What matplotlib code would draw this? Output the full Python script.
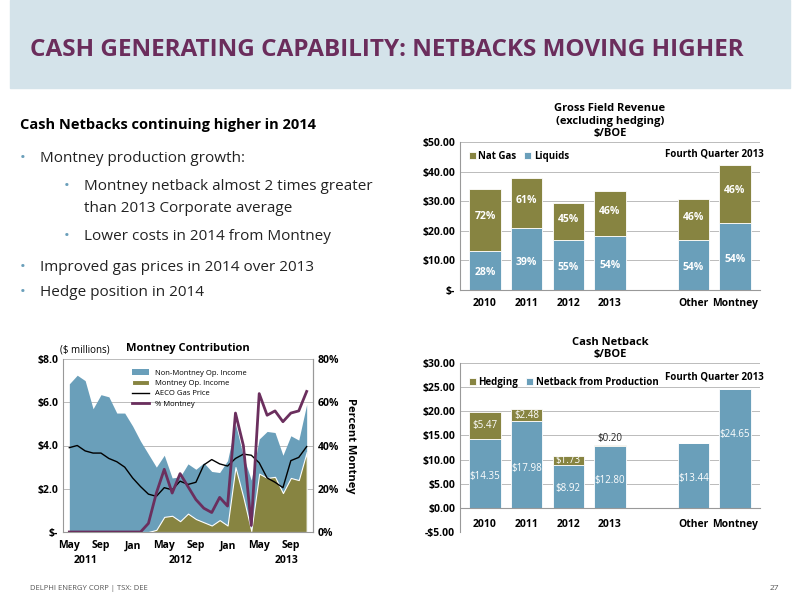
import matplotlib
matplotlib.use("Agg")
import matplotlib.pyplot as plt
import numpy as np
from matplotlib.patches import Rectangle

# ---------- data ----------
rev_cats = ["2010", "2011", "2012", "2013", "", "Other", "Montney"]
rev_liquids = [13.3, 21.0, 17.0, 18.1, 0, 16.8, 22.8]
rev_total = [34.0, 37.8, 29.3, 33.3, 0, 30.9, 42.2]
rev_liq_pct = ["28%", "39%", "55%", "54%", "", "54%", "54%"]
rev_gas_pct = ["72%", "61%", "45%", "46%", "", "46%", "46%"]

nb_cats = ["2010", "2011", "2012", "2013", "", "Other", "Montney"]
nb_prod = [14.35, 17.98, 8.92, 12.80, 0, 13.44, 24.65]
nb_hedge = [5.47, 2.48, 1.73, 0.20, 0, 0, 0]

months_total = [6.85, 7.25, 7.0, 5.7, 6.35, 6.25, 5.5, 5.5, 4.9, 4.2, 3.6, 3.0, 3.55, 2.5,
                2.55, 3.15, 2.9, 3.2, 2.8, 2.75, 3.3, 5.0, 3.5, 2.4, 4.3, 4.65, 4.6, 3.55,
                4.45, 4.25, 5.9]
montney_inc = [0, 0, 0, 0, 0, 0, 0, 0, 0, 0, 0, 0.1, 0.7, 0.75, 0.5, 0.85, 0.6, 0.45, 0.3,
               0.55, 0.3, 3.0, 1.6, 0.05, 2.7, 2.5, 2.55, 1.8, 2.5, 2.4, 3.7]
pct_montney = [0, 0, 0, 0, 0, 0, 0, 0, 0, 0, 4, 18, 29, 18, 27, 21, 15, 11, 9, 16, 12, 55,
               40, 3, 64, 54, 56, 51, 55, 56, 65]
aeco = [3.9, 4.0, 3.75, 3.65, 3.65, 3.4, 3.25, 3.0, 2.5, 2.1, 1.75, 1.65, 2.05, 1.95, 2.35,
        2.2, 2.3, 3.1, 3.35, 3.15, 3.05, 3.4, 3.6, 3.55, 3.2, 2.5, 2.3, 2.05, 3.3, 3.45, 3.95]
month_ticks = ["May", "Sep", "Jan", "May", "Sep", "Jan", "May", "Sep"]
year_labels = ["2011", "2012", "2013"]
year_pos = [2, 14, 27.5]

BLUE = "#6a9fba"
OLIVE = "#878441"
PURPLE = "#6b2f5e"
TITLE = "#6b2d5c"
plt.rcParams['font.family'] = ['Open Sans', 'DejaVu Sans']

W, H = 800, 600
fig = plt.figure(figsize=(8, 6), dpi=100)

def ax_px(x0, y0, x1, y1):
    return fig.add_axes([x0 / W, 1 - y1 / H, (x1 - x0) / W, (y1 - y0) / H])

# title band
fig.patches.append(Rectangle((10 / W, 1 - 88 / H), 780 / W, 88 / H, transform=fig.transFigure,
                             color="#d4e3ea", zorder=0))
fig.text(30 / W, 1 - 50 / H, "CASH GENERATING CAPABILITY: NETBACKS MOVING HIGHER",
         color=TITLE, fontsize=17.5, fontweight="bold", va="center")

fig.text(20 / W, 1 - 125 / H, "Cash Netbacks continuing higher in 2014", fontsize=10.5,
         fontweight="bold", va="center")
bullets = [(20, 159, "Montney production growth:", True),
           (64, 186, "Montney netback almost 2 times greater", True),
           (64, 208, "than 2013 Corporate average", False),
           (64, 236, "Lower costs in 2014 from Montney", True),
           (20, 267, "Improved gas prices in 2014 over 2013", True),
           (20, 293, "Hedge position in 2014", True)]
for x, y, t, b in bullets:
    if b:
        fig.text(x / W, 1 - y / H, "•", color=BLUE, fontsize=11, va="center")
    fig.text((x + 20) / W, 1 - y / H, t, fontsize=11, va="center", color="#222222")
fig.text(30 / W, 1 - 589 / H, "DELPHI ENERGY CORP | TSX: DEE", fontsize=5.5, color="#555555",
         va="center")
fig.text(770 / W, 1 - 589 / H, "27", fontsize=6, color="#555555", va="center")

def style(ax):
    for s in ["top", "right"]:
        ax.spines[s].set_visible(False)
    ax.spines["left"].set_color("#999999")
    ax.spines["bottom"].set_color("#999999")
    ax.grid(axis="y", color="#bbbbbb", lw=0.7)
    ax.set_axisbelow(True)
    ax.tick_params(labelsize=7.5, length=0)
    for l in ax.get_xticklabels() + ax.get_yticklabels():
        l.set_fontweight("bold")

# ---------- top right ----------
ax1 = ax_px(460, 142, 760, 290)
x = np.arange(len(rev_cats))
gas = [t - l for t, l in zip(rev_total, rev_liquids)]
ax1.bar(x, rev_liquids, 0.75, color=BLUE, edgecolor="white", lw=0.6, label="Liquids")
ax1.bar(x, gas, 0.75, bottom=rev_liquids, color=OLIVE, edgecolor="white", lw=0.6, label="Nat Gas")
for i in x:
    if rev_total[i]:
        ax1.text(i, rev_liquids[i] * 0.45, rev_liq_pct[i], ha="center", va="center",
                 color="white", fontsize=7.5, fontweight="bold")
        ax1.text(i, rev_liquids[i] + gas[i] * 0.55, rev_gas_pct[i], ha="center",
                 va="center", color="white", fontsize=7.5, fontweight="bold")
ax1.set_ylim(0, 50)
ax1.set_xlim(-0.6, 6.6)
ax1.set_yticks([0, 10, 20, 30, 40, 50])
ax1.set_yticklabels(["$-", "$10.00", "$20.00", "$30.00", "$40.00", "$50.00"])
ax1.set_xticks(x)
ax1.set_xticklabels(rev_cats)
style(ax1)
ax1.tick_params(axis="x", pad=6)
h, l = ax1.get_legend_handles_labels()
ax1.legend(h[::-1], l[::-1], loc="upper left", ncol=2, frameon=False,
           prop={"weight": "bold", "size": 7}, handlelength=0.7, columnspacing=0.8,
           handletextpad=0.3)
ax1.text(5.5, 45, "Fourth Quarter 2013", ha="center", fontsize=7, fontweight="bold")
ax1.set_title("Gross Field Revenue\n(excluding hedging)\n$/BOE", fontsize=8,
              fontweight="bold", pad=4)

# ---------- bottom right ----------
ax2 = ax_px(460, 363, 760, 532)
ax2.bar(x, nb_prod, 0.75, color=BLUE, edgecolor="white", lw=0.6,
        label="Netback from Production")
ax2.bar(x, nb_hedge, 0.75, bottom=nb_prod, color=OLIVE, edgecolor="white", lw=0.6,
        label="Hedging")
for i in x:
    if nb_prod[i]:
        ax2.text(i, nb_prod[i] * (0.45 if i < 6 else 0.62), f"${nb_prod[i]:.2f}",
                 ha="center", va="center", color="white", fontsize=7)
    if nb_hedge[i] >= 1:
        ax2.text(i, nb_prod[i] + nb_hedge[i] / 2, f"${nb_hedge[i]:.2f}", ha="center",
                 va="center", color="white", fontsize=7)
    elif nb_hedge[i] > 0:
        ax2.text(i, nb_prod[i] + nb_hedge[i] + 0.3, f"${nb_hedge[i]:.2f}", ha="center",
                 va="bottom", color="#222222", fontsize=7)
ax2.set_ylim(-5, 30)
ax2.set_xlim(-0.6, 6.6)
ax2.set_yticks(np.arange(-5, 31, 5))
ax2.set_yticklabels([f"${v:.2f}" if v >= 0 else f"-${-v:.2f}" for v in np.arange(-5, 31, 5)])
ax2.set_xticks(x)
ax2.set_xticklabels(nb_cats)
ax2.spines["bottom"].set_position(("data", 0))
style(ax2)
ax2.tick_params(axis="x", pad=8)
h, l = ax2.get_legend_handles_labels()
ax2.legend(h[::-1], l[::-1], loc="upper left", ncol=2, frameon=False,
           prop={"weight": "bold", "size": 7}, handlelength=0.7, columnspacing=0.8,
           handletextpad=0.3, bbox_to_anchor=(0, 0.97))
ax2.text(5.5, 26.5, "Fourth Quarter 2013", ha="center", fontsize=7, fontweight="bold")
ax2.set_title("Cash Netback\n$/BOE", fontsize=8, fontweight="bold", pad=4)

# ---------- bottom left ----------
ax3 = ax_px(63, 359, 313, 532)
m = np.arange(len(months_total))
ax3.fill_between(m, 0, months_total, color=BLUE, lw=0, label="Non-Montney Op. Income")
ax3.fill_between(m, 0, montney_inc, color=OLIVE, edgecolor="white", lw=0.8,
                 label="Montney Op. Income")
ax3.plot(m, aeco, color="black", lw=1, label="AECO Gas Price")
ax3.plot([], [], color=PURPLE, lw=2, label="% Montney")
ax3.set_ylim(0, 8)
ax3.set_xlim(-0.8, len(m) - 0.2)
ax3.set_yticks([0, 2, 4, 6, 8])
ax3.set_yticklabels(["$-", "$2.0", "$4.0", "$6.0", "$8.0"])
ax3.set_xticks(np.arange(0, 29, 4))
ax3.set_xticklabels(month_ticks)
style(ax3)
ax3.tick_params(axis="x", pad=6)
for xp, yl in zip(year_pos, year_labels):
    ax3.text(xp, -1.05, yl, ha="center", va="top", fontsize=7.5, fontweight="bold")
ax3.spines["right"].set_visible(True)
ax3.spines["right"].set_color("#999999")
ax4 = ax3.twinx()
ax4.plot(m, pct_montney, color=PURPLE, lw=2)
ax4.set_ylim(0, 80)
ax4.set_yticks([0, 20, 40, 60, 80])
ax4.set_yticklabels(["0%", "20%", "40%", "60%", "80%"])
ax4.tick_params(labelsize=7.5, length=0)
for s in ["top", "left", "bottom"]:
    ax4.spines[s].set_visible(False)
ax4.spines["right"].set_color("#999999")
for lab in ax4.get_yticklabels():
    lab.set_fontweight("bold")
ax4.set_ylabel("Percent Montney", rotation=270, labelpad=12, fontsize=8, fontweight="bold")
ax3.legend(loc="upper left", bbox_to_anchor=(0.25, 0.98), frameon=False,
           prop={"size": 5.5}, handlelength=2.2, labelspacing=0.4)
ax3.set_title("Montney Contribution", fontsize=8, fontweight="bold", pad=6)
fig.text(60 / W, 1 - 350 / H, "($ millions)", fontsize=7, va="center")

fig.savefig("out.png", dpi=100, facecolor="white")
